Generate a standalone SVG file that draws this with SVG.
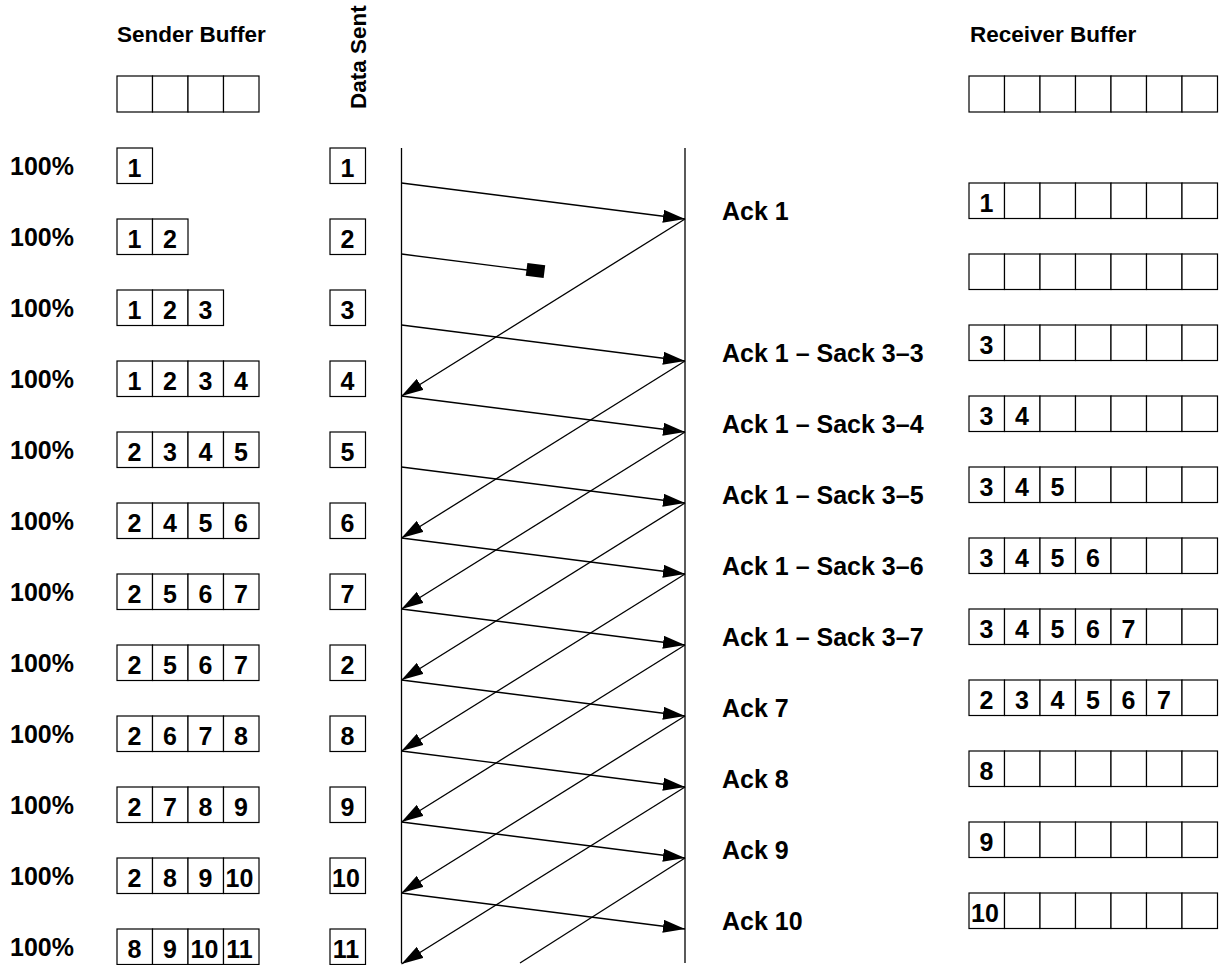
<svg xmlns="http://www.w3.org/2000/svg" width="1220" height="965" viewBox="0 0 1220 965">
<style>
.box{fill:#fff;stroke:#000;stroke-width:1.2}
.t{font-family:"Liberation Sans",Arial,Helvetica,sans-serif;font-weight:bold;font-size:25px;fill:#000}
.c{text-anchor:middle}
.h{font-size:22.5px}
.ln{stroke:#000;stroke-width:1.3;fill:none}
.ar{stroke:#000;stroke-width:1.3;fill:none;marker-end:url(#ah)}
</style>
<defs>
<marker id="ah" markerWidth="22" markerHeight="13" refX="22" refY="6.5" orient="auto" markerUnits="userSpaceOnUse"><path d="M0,0 L22,6.5 L0,13 z" fill="#000"/></marker>
</defs>
<rect width="1220" height="965" fill="#fff"/>

<g id="headers">
<text class="t h" x="117" y="42">Sender Buffer</text>
<text class="t h" x="970" y="42">Receiver Buffer</text>
<text class="t h" transform="translate(366,109) rotate(-90)">Data Sent</text>
</g>

<g id="sender-header">
<rect class="box" x="117" y="76" width="35.5" height="36"/><rect class="box" x="152.5" y="76" width="35.5" height="36"/><rect class="box" x="188" y="76" width="35.5" height="36"/><rect class="box" x="223.5" y="76" width="35.5" height="36"/>
</g>
<g id="receiver-header">
<rect class="box" x="969" y="76" width="35.5" height="36"/><rect class="box" x="1004.5" y="76" width="35.5" height="36"/><rect class="box" x="1040" y="76" width="35.5" height="36"/><rect class="box" x="1075.5" y="76" width="35.5" height="36"/><rect class="box" x="1111" y="76" width="35.5" height="36"/><rect class="box" x="1146.5" y="76" width="35.5" height="36"/><rect class="box" x="1182" y="76" width="35.5" height="36"/>
</g>

<g id="percent">
<text class="t" x="10" y="174.5">100%</text>
<text class="t" x="10" y="245.5">100%</text>
<text class="t" x="10" y="316.5">100%</text>
<text class="t" x="10" y="387.5">100%</text>
<text class="t" x="10" y="458.5">100%</text>
<text class="t" x="10" y="529.5">100%</text>
<text class="t" x="10" y="600.5">100%</text>
<text class="t" x="10" y="671.5">100%</text>
<text class="t" x="10" y="742.5">100%</text>
<text class="t" x="10" y="813.5">100%</text>
<text class="t" x="10" y="884.5">100%</text>
<text class="t" x="10" y="955.5">100%</text>
</g>

<g id="sender-row-1"><rect class="box" x="117" y="148" width="35.5" height="35.5"/><text class="t c" x="134.5" y="176.5">1</text></g>
<g id="sender-row-2"><rect class="box" x="117" y="219" width="35.5" height="35.5"/><rect class="box" x="152.5" y="219" width="35.5" height="35.5"/><text class="t c" x="134.5" y="247.5">1</text><text class="t c" x="170" y="247.5">2</text></g>
<g id="sender-row-3"><rect class="box" x="117" y="290" width="35.5" height="35.5"/><rect class="box" x="152.5" y="290" width="35.5" height="35.5"/><rect class="box" x="188" y="290" width="35.5" height="35.5"/><text class="t c" x="134.5" y="318.5">1</text><text class="t c" x="170" y="318.5">2</text><text class="t c" x="205.5" y="318.5">3</text></g>
<g id="sender-row-4"><rect class="box" x="117" y="361" width="35.5" height="35.5"/><rect class="box" x="152.5" y="361" width="35.5" height="35.5"/><rect class="box" x="188" y="361" width="35.5" height="35.5"/><rect class="box" x="223.5" y="361" width="35.5" height="35.5"/><text class="t c" x="134.5" y="389.5">1</text><text class="t c" x="170" y="389.5">2</text><text class="t c" x="205.5" y="389.5">3</text><text class="t c" x="241" y="389.5">4</text></g>
<g id="sender-row-5"><rect class="box" x="117" y="432" width="35.5" height="35.5"/><rect class="box" x="152.5" y="432" width="35.5" height="35.5"/><rect class="box" x="188" y="432" width="35.5" height="35.5"/><rect class="box" x="223.5" y="432" width="35.5" height="35.5"/><text class="t c" x="134.5" y="460.5">2</text><text class="t c" x="170" y="460.5">3</text><text class="t c" x="205.5" y="460.5">4</text><text class="t c" x="241" y="460.5">5</text></g>
<g id="sender-row-6"><rect class="box" x="117" y="503" width="35.5" height="35.5"/><rect class="box" x="152.5" y="503" width="35.5" height="35.5"/><rect class="box" x="188" y="503" width="35.5" height="35.5"/><rect class="box" x="223.5" y="503" width="35.5" height="35.5"/><text class="t c" x="134.5" y="531.5">2</text><text class="t c" x="170" y="531.5">4</text><text class="t c" x="205.5" y="531.5">5</text><text class="t c" x="241" y="531.5">6</text></g>
<g id="sender-row-7"><rect class="box" x="117" y="574" width="35.5" height="35.5"/><rect class="box" x="152.5" y="574" width="35.5" height="35.5"/><rect class="box" x="188" y="574" width="35.5" height="35.5"/><rect class="box" x="223.5" y="574" width="35.5" height="35.5"/><text class="t c" x="134.5" y="602.5">2</text><text class="t c" x="170" y="602.5">5</text><text class="t c" x="205.5" y="602.5">6</text><text class="t c" x="241" y="602.5">7</text></g>
<g id="sender-row-8"><rect class="box" x="117" y="645" width="35.5" height="35.5"/><rect class="box" x="152.5" y="645" width="35.5" height="35.5"/><rect class="box" x="188" y="645" width="35.5" height="35.5"/><rect class="box" x="223.5" y="645" width="35.5" height="35.5"/><text class="t c" x="134.5" y="673.5">2</text><text class="t c" x="170" y="673.5">5</text><text class="t c" x="205.5" y="673.5">6</text><text class="t c" x="241" y="673.5">7</text></g>
<g id="sender-row-9"><rect class="box" x="117" y="716" width="35.5" height="35.5"/><rect class="box" x="152.5" y="716" width="35.5" height="35.5"/><rect class="box" x="188" y="716" width="35.5" height="35.5"/><rect class="box" x="223.5" y="716" width="35.5" height="35.5"/><text class="t c" x="134.5" y="744.5">2</text><text class="t c" x="170" y="744.5">6</text><text class="t c" x="205.5" y="744.5">7</text><text class="t c" x="241" y="744.5">8</text></g>
<g id="sender-row-10"><rect class="box" x="117" y="787" width="35.5" height="35.5"/><rect class="box" x="152.5" y="787" width="35.5" height="35.5"/><rect class="box" x="188" y="787" width="35.5" height="35.5"/><rect class="box" x="223.5" y="787" width="35.5" height="35.5"/><text class="t c" x="134.5" y="815.5">2</text><text class="t c" x="170" y="815.5">7</text><text class="t c" x="205.5" y="815.5">8</text><text class="t c" x="241" y="815.5">9</text></g>
<g id="sender-row-11"><rect class="box" x="117" y="858" width="35.5" height="35.5"/><rect class="box" x="152.5" y="858" width="35.5" height="35.5"/><rect class="box" x="188" y="858" width="35.5" height="35.5"/><rect class="box" x="223.5" y="858" width="35.5" height="35.5"/><text class="t c" x="134.5" y="886.5">2</text><text class="t c" x="170" y="886.5">8</text><text class="t c" x="205.5" y="886.5">9</text><text class="t c" x="239.5" y="886.5">10</text></g>
<g id="sender-row-12"><rect class="box" x="117" y="929" width="35.5" height="35.5"/><rect class="box" x="152.5" y="929" width="35.5" height="35.5"/><rect class="box" x="188" y="929" width="35.5" height="35.5"/><rect class="box" x="223.5" y="929" width="35.5" height="35.5"/><text class="t c" x="134.5" y="957.5">8</text><text class="t c" x="170" y="957.5">9</text><text class="t c" x="204.5" y="957.5">10</text><text class="t c" x="239.5" y="957.5">11</text></g>

<g id="data-sent">
<g id="sent-1"><rect class="box" x="330" y="148" width="35.5" height="35.5"/><text class="t c" x="347.5" y="176.5">1</text></g>
<g id="sent-2"><rect class="box" x="330" y="219" width="35.5" height="35.5"/><text class="t c" x="347.5" y="247.5">2</text></g>
<g id="sent-3"><rect class="box" x="330" y="290" width="35.5" height="35.5"/><text class="t c" x="347.5" y="318.5">3</text></g>
<g id="sent-4"><rect class="box" x="330" y="361" width="35.5" height="35.5"/><text class="t c" x="347.5" y="389.5">4</text></g>
<g id="sent-5"><rect class="box" x="330" y="432" width="35.5" height="35.5"/><text class="t c" x="347.5" y="460.5">5</text></g>
<g id="sent-6"><rect class="box" x="330" y="503" width="35.5" height="35.5"/><text class="t c" x="347.5" y="531.5">6</text></g>
<g id="sent-7"><rect class="box" x="330" y="574" width="35.5" height="35.5"/><text class="t c" x="347.5" y="602.5">7</text></g>
<g id="sent-8"><rect class="box" x="330" y="645" width="35.5" height="35.5"/><text class="t c" x="347.5" y="673.5">2</text></g>
<g id="sent-9"><rect class="box" x="330" y="716" width="35.5" height="35.5"/><text class="t c" x="347.5" y="744.5">8</text></g>
<g id="sent-10"><rect class="box" x="330" y="787" width="35.5" height="35.5"/><text class="t c" x="347.5" y="815.5">9</text></g>
<g id="sent-11"><rect class="box" x="330" y="858" width="35.5" height="35.5"/><text class="t c" x="346" y="886.5">10</text></g>
<g id="sent-12"><rect class="box" x="330" y="929" width="35.5" height="35.5"/><text class="t c" x="346" y="957.5">11</text></g>
</g>

<g id="receiver-rows">
<g id="recv-1"><rect class="box" x="969" y="183" width="35.5" height="35.5"/><rect class="box" x="1004.5" y="183" width="35.5" height="35.5"/><rect class="box" x="1040" y="183" width="35.5" height="35.5"/><rect class="box" x="1075.5" y="183" width="35.5" height="35.5"/><rect class="box" x="1111" y="183" width="35.5" height="35.5"/><rect class="box" x="1146.5" y="183" width="35.5" height="35.5"/><rect class="box" x="1182" y="183" width="35.5" height="35.5"/><text class="t c" x="986.5" y="211.5">1</text></g>
<g id="recv-2"><rect class="box" x="969" y="254" width="35.5" height="35.5"/><rect class="box" x="1004.5" y="254" width="35.5" height="35.5"/><rect class="box" x="1040" y="254" width="35.5" height="35.5"/><rect class="box" x="1075.5" y="254" width="35.5" height="35.5"/><rect class="box" x="1111" y="254" width="35.5" height="35.5"/><rect class="box" x="1146.5" y="254" width="35.5" height="35.5"/><rect class="box" x="1182" y="254" width="35.5" height="35.5"/></g>
<g id="recv-3"><rect class="box" x="969" y="325" width="35.5" height="35.5"/><rect class="box" x="1004.5" y="325" width="35.5" height="35.5"/><rect class="box" x="1040" y="325" width="35.5" height="35.5"/><rect class="box" x="1075.5" y="325" width="35.5" height="35.5"/><rect class="box" x="1111" y="325" width="35.5" height="35.5"/><rect class="box" x="1146.5" y="325" width="35.5" height="35.5"/><rect class="box" x="1182" y="325" width="35.5" height="35.5"/><text class="t c" x="986.5" y="353.5">3</text></g>
<g id="recv-4"><rect class="box" x="969" y="396" width="35.5" height="35.5"/><rect class="box" x="1004.5" y="396" width="35.5" height="35.5"/><rect class="box" x="1040" y="396" width="35.5" height="35.5"/><rect class="box" x="1075.5" y="396" width="35.5" height="35.5"/><rect class="box" x="1111" y="396" width="35.5" height="35.5"/><rect class="box" x="1146.5" y="396" width="35.5" height="35.5"/><rect class="box" x="1182" y="396" width="35.5" height="35.5"/><text class="t c" x="986.5" y="424.5">3</text><text class="t c" x="1022" y="424.5">4</text></g>
<g id="recv-5"><rect class="box" x="969" y="467" width="35.5" height="35.5"/><rect class="box" x="1004.5" y="467" width="35.5" height="35.5"/><rect class="box" x="1040" y="467" width="35.5" height="35.5"/><rect class="box" x="1075.5" y="467" width="35.5" height="35.5"/><rect class="box" x="1111" y="467" width="35.5" height="35.5"/><rect class="box" x="1146.5" y="467" width="35.5" height="35.5"/><rect class="box" x="1182" y="467" width="35.5" height="35.5"/><text class="t c" x="986.5" y="495.5">3</text><text class="t c" x="1022" y="495.5">4</text><text class="t c" x="1057.5" y="495.5">5</text></g>
<g id="recv-6"><rect class="box" x="969" y="538" width="35.5" height="35.5"/><rect class="box" x="1004.5" y="538" width="35.5" height="35.5"/><rect class="box" x="1040" y="538" width="35.5" height="35.5"/><rect class="box" x="1075.5" y="538" width="35.5" height="35.5"/><rect class="box" x="1111" y="538" width="35.5" height="35.5"/><rect class="box" x="1146.5" y="538" width="35.5" height="35.5"/><rect class="box" x="1182" y="538" width="35.5" height="35.5"/><text class="t c" x="986.5" y="566.5">3</text><text class="t c" x="1022" y="566.5">4</text><text class="t c" x="1057.5" y="566.5">5</text><text class="t c" x="1093" y="566.5">6</text></g>
<g id="recv-7"><rect class="box" x="969" y="609" width="35.5" height="35.5"/><rect class="box" x="1004.5" y="609" width="35.5" height="35.5"/><rect class="box" x="1040" y="609" width="35.5" height="35.5"/><rect class="box" x="1075.5" y="609" width="35.5" height="35.5"/><rect class="box" x="1111" y="609" width="35.5" height="35.5"/><rect class="box" x="1146.5" y="609" width="35.5" height="35.5"/><rect class="box" x="1182" y="609" width="35.5" height="35.5"/><text class="t c" x="986.5" y="637.5">3</text><text class="t c" x="1022" y="637.5">4</text><text class="t c" x="1057.5" y="637.5">5</text><text class="t c" x="1093" y="637.5">6</text><text class="t c" x="1128.5" y="637.5">7</text></g>
<g id="recv-8"><rect class="box" x="969" y="680" width="35.5" height="35.5"/><rect class="box" x="1004.5" y="680" width="35.5" height="35.5"/><rect class="box" x="1040" y="680" width="35.5" height="35.5"/><rect class="box" x="1075.5" y="680" width="35.5" height="35.5"/><rect class="box" x="1111" y="680" width="35.5" height="35.5"/><rect class="box" x="1146.5" y="680" width="35.5" height="35.5"/><rect class="box" x="1182" y="680" width="35.5" height="35.5"/><text class="t c" x="986.5" y="708.5">2</text><text class="t c" x="1022" y="708.5">3</text><text class="t c" x="1057.5" y="708.5">4</text><text class="t c" x="1093" y="708.5">5</text><text class="t c" x="1128.5" y="708.5">6</text><text class="t c" x="1164" y="708.5">7</text></g>
<g id="recv-9"><rect class="box" x="969" y="751" width="35.5" height="35.5"/><rect class="box" x="1004.5" y="751" width="35.5" height="35.5"/><rect class="box" x="1040" y="751" width="35.5" height="35.5"/><rect class="box" x="1075.5" y="751" width="35.5" height="35.5"/><rect class="box" x="1111" y="751" width="35.5" height="35.5"/><rect class="box" x="1146.5" y="751" width="35.5" height="35.5"/><rect class="box" x="1182" y="751" width="35.5" height="35.5"/><text class="t c" x="986.5" y="779.5">8</text></g>
<g id="recv-10"><rect class="box" x="969" y="822" width="35.5" height="35.5"/><rect class="box" x="1004.5" y="822" width="35.5" height="35.5"/><rect class="box" x="1040" y="822" width="35.5" height="35.5"/><rect class="box" x="1075.5" y="822" width="35.5" height="35.5"/><rect class="box" x="1111" y="822" width="35.5" height="35.5"/><rect class="box" x="1146.5" y="822" width="35.5" height="35.5"/><rect class="box" x="1182" y="822" width="35.5" height="35.5"/><text class="t c" x="986.5" y="850.5">9</text></g>
<g id="recv-11"><rect class="box" x="969" y="893" width="35.5" height="35.5"/><rect class="box" x="1004.5" y="893" width="35.5" height="35.5"/><rect class="box" x="1040" y="893" width="35.5" height="35.5"/><rect class="box" x="1075.5" y="893" width="35.5" height="35.5"/><rect class="box" x="1111" y="893" width="35.5" height="35.5"/><rect class="box" x="1146.5" y="893" width="35.5" height="35.5"/><rect class="box" x="1182" y="893" width="35.5" height="35.5"/><text class="t c" x="985" y="921.5">10</text></g>
</g>

<g id="ack-labels">
<text class="t" x="722" y="219.5">Ack 1</text>
<text class="t" x="722" y="361.5">Ack 1 – Sack 3–3</text>
<text class="t" x="722" y="432.5">Ack 1 – Sack 3–4</text>
<text class="t" x="722" y="503.5">Ack 1 – Sack 3–5</text>
<text class="t" x="722" y="574.5">Ack 1 – Sack 3–6</text>
<text class="t" x="722" y="645.5">Ack 1 – Sack 3–7</text>
<text class="t" x="722" y="716.5">Ack 7</text>
<text class="t" x="722" y="787.5">Ack 8</text>
<text class="t" x="722" y="858.5">Ack 9</text>
<text class="t" x="722" y="929.5">Ack 10</text>
</g>

<g id="connectors">
<line class="ln" x1="401.5" y1="148" x2="401.5" y2="963"/>
<line class="ln" x1="685" y1="148" x2="685" y2="963"/>
<line class="ar" x1="401.5" y1="183" x2="685" y2="219"/>
<line class="ln" x1="401.5" y1="254" x2="527" y2="270"/>
<rect x="526.5" y="264" width="18" height="13" fill="#000" transform="rotate(7.2 535.5 270.5)"/>
<line class="ar" x1="401.5" y1="325" x2="685" y2="361"/>
<line class="ar" x1="401.5" y1="396" x2="685" y2="432"/>
<line class="ar" x1="401.5" y1="467" x2="685" y2="503"/>
<line class="ar" x1="401.5" y1="538" x2="685" y2="574"/>
<line class="ar" x1="401.5" y1="609" x2="685" y2="645"/>
<line class="ar" x1="401.5" y1="680" x2="685" y2="716"/>
<line class="ar" x1="401.5" y1="751" x2="685" y2="787"/>
<line class="ar" x1="401.5" y1="822" x2="685" y2="858"/>
<line class="ar" x1="401.5" y1="893" x2="685" y2="929"/>
<line class="ar" x1="685" y1="219" x2="401.5" y2="396"/>
<line class="ar" x1="685" y1="361" x2="401.5" y2="538"/>
<line class="ar" x1="685" y1="432" x2="401.5" y2="609"/>
<line class="ar" x1="685" y1="503" x2="401.5" y2="680"/>
<line class="ar" x1="685" y1="574" x2="401.5" y2="751"/>
<line class="ar" x1="685" y1="645" x2="401.5" y2="822"/>
<line class="ar" x1="685" y1="716" x2="401.5" y2="893"/>
<line class="ar" x1="685" y1="787" x2="401.5" y2="964"/>
<line class="ln" x1="685" y1="858" x2="520" y2="963"/>
</g>
</svg>
